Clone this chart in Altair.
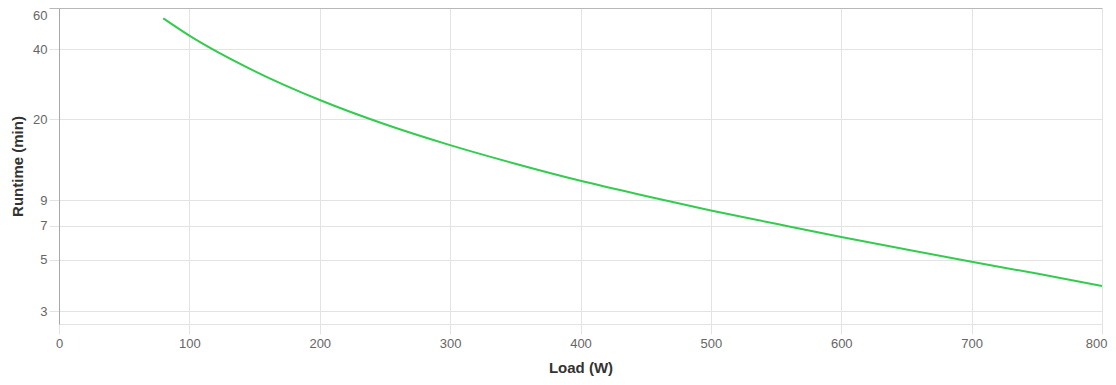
import altair as alt
import pandas as pd

load_w = [80, 100, 150, 200, 250, 300, 350, 400, 450, 500, 550, 600, 650, 700, 750, 800]
runtime_min = [54.2, 45.7, 32.2, 24.2, 19.05, 15.5, 12.9, 10.9, 9.38, 8.13, 7.13, 6.26, 5.53, 4.9, 4.36, 3.86]
x_ticks = [0, 100, 200, 300, 400, 500, 600, 700, 800]
y_ticks = [3, 5, 7, 9, 20, 40, 60]

df = pd.DataFrame({"load": load_w, "runtime": runtime_min})

FONT = "Liberation Sans"
GRID = "#e3e3e3"

chart = alt.Chart(df).mark_line(
    color="#33cc4f", strokeWidth=2, interpolate="monotone"
).encode(
    x=alt.X(
        "load:Q",
        scale=alt.Scale(domain=[0, 800], nice=False, zero=False),
        axis=alt.Axis(
            values=x_ticks,
            title="Load (W)",
            titleFont=FONT, titleFontSize=15, titleFontWeight="bold", titleColor="#333333",
            titleY=43, titleBaseline="middle",
            labelFont=FONT, labelFontSize=13, labelColor="#666666", labelPadding=3,
            labelFlush=False,
            labelAlign={"condition": {"test": "datum.value === 800", "value": "right"}, "value": "center"},
            labelOffset={"condition": {"test": "datum.value === 800", "value": 5}, "value": 0},
            grid=True, gridColor=GRID,
            tickColor=GRID, tickSize=10,
            domain=True, domainColor=GRID,
        ),
    ),
    y=alt.Y(
        "runtime:Q",
        scale=alt.Scale(type="log", domain=[2.65, 60], nice=False),
        axis=alt.Axis(
            values=y_ticks,
            title="Runtime (min)",
            titleFont=FONT, titleFontSize=15, titleFontWeight="bold", titleColor="#333333",
            titleX=-42, titleBaseline="middle",
            labelFont=FONT, labelFontSize=13, labelColor="#666666", labelPadding=2,
            labelFlush=False, labelBaseline="middle",
            labelOffset={"condition": {"test": "datum.value === 60", "value": 7}, "value": 0},
            grid=True,
            gridColor={"condition": {"test": "datum.value === 60", "value": "#b8b8b8"}, "value": GRID},
            tickColor={"condition": {"test": "datum.value === 60", "value": "#b8b8b8"}, "value": GRID},
            tickSize=10,
            domain=True, domainColor="#a8a8a8",
        ),
    ),
).properties(
    width=1043,
    height=316,
    autosize=alt.AutoSizeParams(type="none"),
    padding={"left": 51, "top": 0, "right": 6, "bottom": 53},
).configure_view(stroke=None)

chart.save("out.html", embed_options={"renderer": "svg", "actions": False})
